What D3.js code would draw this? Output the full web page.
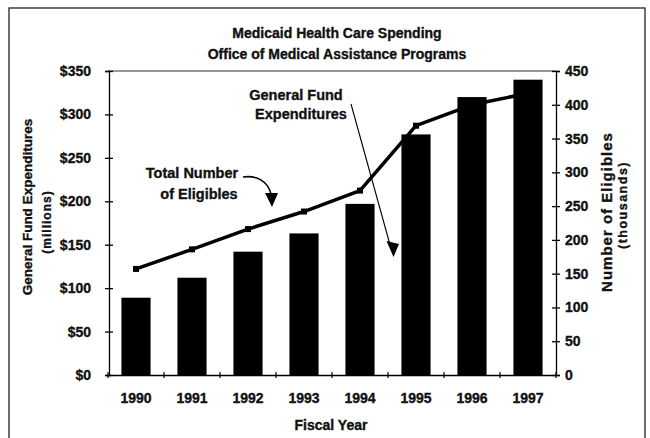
<!DOCTYPE html>
<html>
<head>
<meta charset="utf-8">
<script src="https://cdn.jsdelivr.net/npm/d3@7"></script>
<style>
  html, body { margin: 0; padding: 0; background: #fff; }
  svg { display: block; font-family: "Liberation Sans", Arial, sans-serif; font-weight: bold; }
  svg text { stroke: #111; stroke-width: 0.35px; }
</style>
</head>
<body>
<svg id="chart" width="650" height="438"></svg>
<script>
// Fiscal years on the x axis
const years = ["1990", "1991", "1992", "1993", "1994", "1995", "1996", "1997"];
// General fund expenditures, millions of dollars (bars)
const expenditures = [89, 112, 142, 163, 197, 277, 320, 340];
// Total number of eligibles, thousands (line)
const eligibles = [157, 186, 216, 242, 273, 369, 400, 417];
// Axis tick values
const leftTicks = [0, 50, 100, 150, 200, 250, 300, 350];
const rightTicks = [0, 50, 100, 150, 200, 250, 300, 350, 400, 450];
const titleLines = ["Medicaid Health Care Spending", "Office of Medical Assistance Programs"];

const svg = d3.select("#chart");
const plot = { left: 108, right: 556, top: 71, bottom: 375 };

const x = d3.scaleBand().domain(years).range([plot.left, plot.right])
  .paddingInner(0.48).paddingOuter(0.24);
const yL = d3.scaleLinear().domain([0, 350]).range([plot.bottom, plot.top]);
const yR = d3.scaleLinear().domain([0, 450]).range([plot.bottom, plot.top]);

// outer frame
svg.append("rect").attr("x", 9).attr("y", 8).attr("width", 636).attr("height", 436)
  .attr("fill", "none").attr("stroke", "#222").attr("stroke-width", 1.3);

// titles
svg.selectAll("text.title").data(titleLines).join("text")
  .attr("class", "title")
  .attr("x", 337).attr("y", (d, i) => 38 + i * 21)
  .attr("text-anchor", "middle").attr("font-size", 14).attr("fill", "#111")
  .text(d => d);

// top border of plot
svg.append("line").attr("x1", plot.left).attr("x2", plot.right)
  .attr("y1", plot.top).attr("y2", plot.top).attr("stroke", "#333").attr("stroke-width", 1);

// eligibles line (behind bars)
const line = d3.line().x((d, i) => x(years[i]) + x.bandwidth() / 2).y(d => yR(d));
svg.append("path").datum(eligibles).attr("d", line)
  .attr("fill", "none").attr("stroke", "#000").attr("stroke-width", 3.5)
  .attr("stroke-linejoin", "round");
svg.selectAll("rect.mark").data(eligibles).join("rect")
  .attr("class", "mark")
  .attr("x", (d, i) => x(years[i]) + x.bandwidth() / 2 - 3)
  .attr("y", d => yR(d) - 3)
  .attr("width", 6).attr("height", 6).attr("fill", "#000");

// expenditure bars
svg.selectAll("rect.bar").data(expenditures).join("rect")
  .attr("class", "bar")
  .attr("x", (d, i) => x(years[i]))
  .attr("y", d => yL(d))
  .attr("width", x.bandwidth())
  .attr("height", d => yL(0) - yL(d))
  .attr("fill", "#000");

// left axis
const gL = svg.append("g").attr("transform", `translate(${plot.left + 1},0)`)
  .call(d3.axisLeft(yL).tickValues(leftTicks).tickSize(4).tickPadding(14).tickFormat(d => "$" + d));
gL.selectAll(".tick line").attr("x1", -4).attr("x2", 4).attr("stroke-width", 1.3);
gL.select(".domain").attr("stroke-width", 1.3);
gL.selectAll("text").attr("font-size", 14).attr("fill", "#111");

// right axis
const gR = svg.append("g").attr("transform", `translate(${plot.right},0)`)
  .call(d3.axisRight(yR).tickValues(rightTicks).tickSize(4).tickPadding(5));
gR.selectAll(".tick line").attr("x1", -4).attr("x2", 4).attr("stroke-width", 1.3);
gR.select(".domain").attr("stroke-width", 1.3);
gR.selectAll("text").attr("font-size", 14).attr("fill", "#111");

// bottom axis with ticks between categories
const gB = svg.append("g").attr("transform", `translate(0,${plot.bottom})`)
  .call(d3.axisBottom(x).tickSize(0).tickPadding(18));
gB.select(".domain").attr("stroke-width", 1.6);
gB.selectAll("text").attr("font-size", 14).attr("fill", "#111");
const bounds = d3.range(years.length + 1).map(i => plot.left + i * x.step());
gB.selectAll("line.sep").data(bounds).join("line").attr("class", "sep")
  .attr("x1", d => d).attr("x2", d => d).attr("y1", -3).attr("y2", 3)
  .attr("stroke", "#000").attr("stroke-width", 1.2);

// axis titles
svg.append("text").attr("x", 331).attr("y", 430).attr("text-anchor", "middle")
  .attr("font-size", 14).attr("fill", "#111").text("Fiscal Year");
svg.append("text").attr("transform", "translate(32,207) rotate(-90)")
  .attr("text-anchor", "middle").attr("font-size", 13.5).attr("fill", "#111")
  .text("General Fund Expenditures");
svg.append("text").attr("transform", "translate(51,222) rotate(-90)")
  .attr("text-anchor", "middle").attr("font-size", 12).attr("letter-spacing", 1).attr("fill", "#111")
  .text("(millions)");
svg.append("text").attr("transform", "translate(612,212) rotate(-90)")
  .attr("text-anchor", "middle").attr("font-size", 15).attr("letter-spacing", 1).attr("fill", "#111")
  .text("Number of Eligibles");
svg.append("text").attr("transform", "translate(627,205) rotate(-90)")
  .attr("text-anchor", "middle").attr("font-size", 12.5).attr("letter-spacing", 1.5).attr("fill", "#111")
  .text("(thousands)");

// annotation: general fund expenditures
svg.append("text").attr("x", 296).attr("y", 100).attr("text-anchor", "middle")
  .attr("font-size", 14.5).attr("fill", "#111").text("General Fund");
svg.append("text").attr("x", 301).attr("y", 119).attr("text-anchor", "middle")
  .attr("font-size", 14.5).attr("fill", "#111").text("Expenditures");
svg.append("line").attr("x1", 351).attr("y1", 104).attr("x2", 389.5).attr("y2", 243)
  .attr("stroke", "#000").attr("stroke-width", 1.1);
svg.append("path").attr("d", "M386.5,241 L399,244 L393.5,257 Z").attr("fill", "#000");

// annotation: total number of eligibles
svg.append("text").attr("x", 192).attr("y", 178).attr("text-anchor", "middle")
  .attr("font-size", 14.5).attr("fill", "#111").text("Total Number");
svg.append("text").attr("x", 199).attr("y", 199).attr("text-anchor", "middle")
  .attr("font-size", 14.5).attr("fill", "#111").text("of Eligibles");
svg.append("path").attr("d", "M243,177 C256,175 268,181 271,194")
  .attr("fill", "none").attr("stroke", "#000").attr("stroke-width", 1.6);
svg.append("path").attr("d", "M265,193 L278,193 L272,207 Z").attr("fill", "#000");
</script>
</body>
</html>
